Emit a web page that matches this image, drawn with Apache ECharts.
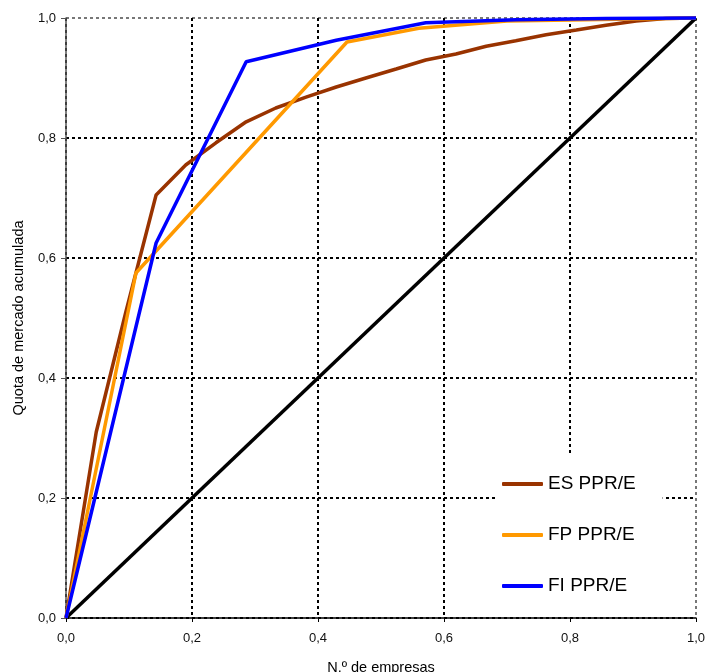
<html style="height: 100%">
	<head>
		<meta charset="utf-8">
	</head>
	<body style="height: 100%; width: 100%; margin: 0">
		<div id="container" style="height: 100%;width: 100%;"></div>
		<script type="text/javascript" src="https://cdn.jsdelivr.net/npm/echarts@6/dist/echarts.min.js"></script>
		<script type="text/javascript">
			// cumulative share of firms (x) vs cumulative market share (y)
			var esX = [0, 0.048, 0.095, 0.143, 0.190, 0.238, 0.286, 0.333, 0.381, 0.429, 0.476, 0.524,
				0.571, 0.619, 0.667, 0.714, 0.762, 0.810, 0.857, 0.905, 0.952, 1.0];
			var esY = [0, 0.31, 0.51, 0.705, 0.755, 0.792, 0.827, 0.85, 0.868, 0.885, 0.9, 0.915,
				0.93, 0.94, 0.953, 0.962, 0.972, 0.98, 0.988, 0.995, 0.999, 1.0];
			var fpX = [0, 0.111, 0.446, 0.56, 0.7, 1.0];
			var fpY = [0, 0.575, 0.96, 0.983, 0.995, 1.0];
			var fiX = [0, 0.143, 0.286, 0.429, 0.571, 0.714, 0.857, 1.0];
			var fiY = [0, 0.625, 0.927, 0.963, 0.992, 0.997, 0.999, 1.0];
			var diagX = [0, 1];
			var diagY = [0, 1];
			var seriesNames = ['ES PPR/E', 'FP PPR/E', 'FI PPR/E'];

			function pairs(xs, ys) {
				var out = [];
				for (var i = 0; i < xs.length; i++) {
					out.push([xs[i], ys[i]]);
				}
				return out;
			}

			function fmt(v) {
				return v.toFixed(1).replace('.', ',');
			}

			var dom = document.getElementById("container");
			var myChart = echarts.init(dom);
			var font = 'Liberation Sans, Arial, sans-serif';
			var dotted = [3, 3];
			var gridColors = ['#000', '#000', '#000', '#000', '#000', '#777'];

			var option = {
				backgroundColor: '#ffffff',
				animation: false,
				grid: {
					left: 66,
					right: 14,
					top: 18,
					bottom: 54,
					containLabel: false,
					outerBoundsMode: 'none'
				},
				legend: {
					orient: 'vertical',
					left: 497,
					top: 455,
					padding: [19, 27, 19, 5],
					backgroundColor: '#ffffff',
					icon: 'roundRect',
					itemWidth: 41,
					itemHeight: 4,
					itemGap: 31,
					data: seriesNames,
					textStyle: {
						fontFamily: font,
						fontSize: 19,
						lineHeight: 20,
						color: '#000'
					}
				},
				xAxis: {
					type: 'value',
					min: 0,
					max: 1,
					interval: 0.2,
					name: 'N.º de empresas',
					nameLocation: 'middle',
					nameGap: 42,
					nameTextStyle: {
						fontFamily: font,
						fontSize: 14.5,
						color: '#000'
					},
					axisLine: {
						show: true,
						lineStyle: { color: '#000', width: 1.5 }
					},
					axisTick: {
						show: true,
						length: 4,
						lineStyle: { color: '#000' }
					},
					axisLabel: {
						formatter: fmt,
						margin: 14,
						fontFamily: font,
						fontSize: 13,
						color: '#111'
					},
					splitLine: {
						show: true,
						lineStyle: { color: gridColors, width: 2, type: dotted }
					}
				},
				yAxis: {
					type: 'value',
					min: 0,
					max: 1,
					interval: 0.2,
					name: 'Quota de mercado acumulada',
					nameLocation: 'middle',
					nameGap: 40,
					nameTextStyle: {
						fontFamily: font,
						fontSize: 14.5,
						color: '#000'
					},
					axisLine: {
						show: true,
						lineStyle: { color: '#555', width: 1.5 }
					},
					axisTick: {
						show: true,
						length: 5,
						lineStyle: { color: '#555' }
					},
					axisLabel: {
						formatter: fmt,
						margin: 10,
						fontFamily: font,
						fontSize: 13,
						color: '#111'
					},
					splitLine: {
						show: true,
						lineStyle: { color: gridColors, width: 2, type: dotted }
					}
				},
				series: [{
					name: 'diag',
					type: 'line',
					data: pairs(diagX, diagY),
					symbol: 'none',
					clip: false,
					lineStyle: { color: '#000', width: 3.5 },
					itemStyle: { color: '#000' }
				}, {
					name: seriesNames[0],
					type: 'line',
					data: pairs(esX, esY),
					symbol: 'none',
					clip: false,
					lineStyle: { color: '#993300', width: 3.5 },
					itemStyle: { color: '#993300' }
				}, {
					name: seriesNames[1],
					type: 'line',
					data: pairs(fpX, fpY),
					symbol: 'none',
					clip: false,
					lineStyle: { color: '#ff9900', width: 3.5 },
					itemStyle: { color: '#ff9900' }
				}, {
					name: seriesNames[2],
					type: 'line',
					data: pairs(fiX, fiY),
					symbol: 'none',
					clip: false,
					lineStyle: { color: '#0000ff', width: 3.5 },
					itemStyle: { color: '#0000ff' }
				}]
			};

			myChart.setOption(option);
		</script>
	</body>
</html>
